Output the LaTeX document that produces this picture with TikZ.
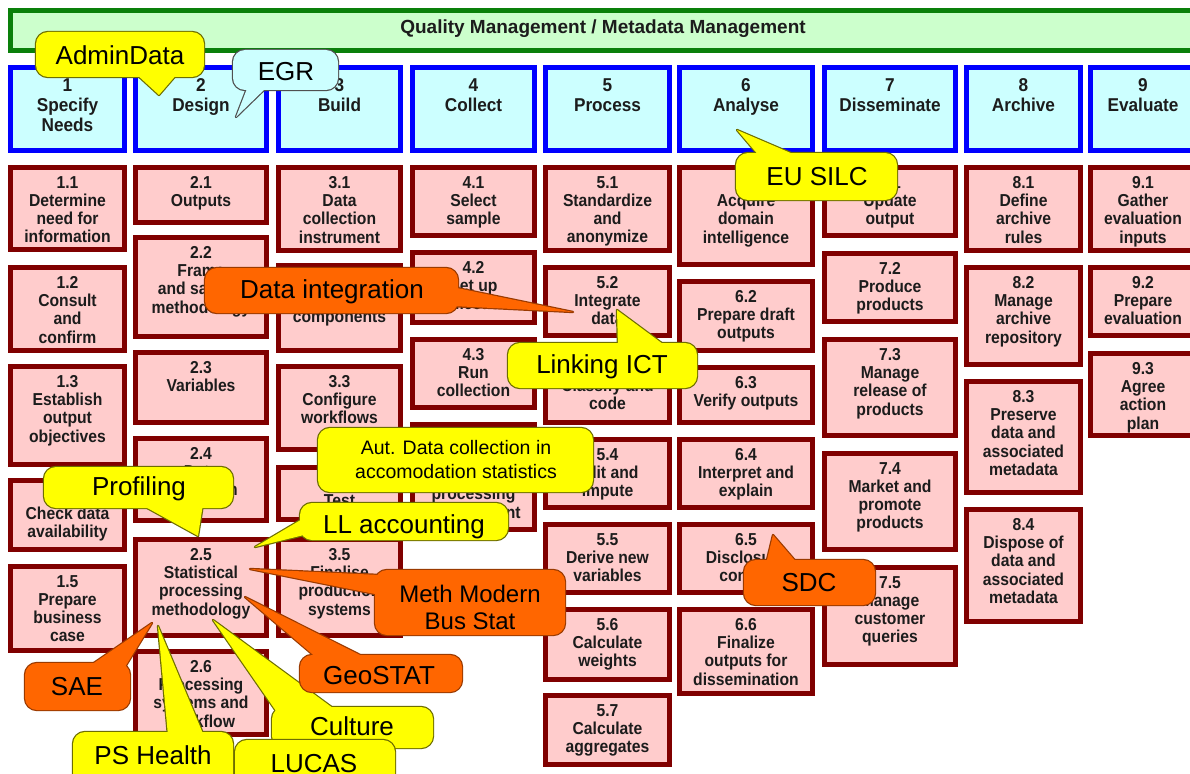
\documentclass[tikz,border=0pt]{standalone}
\usepackage{fontspec}
\setmainfont{Liberation Sans}
\usetikzlibrary{calc}

\definecolor{qmline}{HTML}{0A800A}
\definecolor{qmfill}{HTML}{CCFFCC}
\definecolor{phaseline}{HTML}{0000FF}
\definecolor{phasefill}{HTML}{CCFFFF}
\definecolor{subline}{HTML}{800000}
\definecolor{subfill}{HTML}{FFCCCC}
\definecolor{boxtext}{HTML}{1C1C1C}
\definecolor{yelfill}{HTML}{FFFF00}
\definecolor{yelline}{HTML}{6E6E00}
\definecolor{orgfill}{HTML}{FF6600}
\definecolor{orgline}{HTML}{9A3A00}
\definecolor{cyafill}{HTML}{CCFFFF}
\definecolor{cyaline}{HTML}{505050}

\tikzset{
  gsbframe/.style={rectangle, line width=5pt, inner sep=0pt, outer sep=0pt},
  phasebox/.style={gsbframe, draw=phaseline, fill=phasefill},
  stepbox/.style={gsbframe, draw=subline, fill=subfill},
  phasebox text/.style={anchor=north, yshift=-11pt, yscale=1.08, inner sep=0pt, align=center,
    text=boxtext, font=\bfseries\fontsize{17.2}{18.5}\selectfont},
  stepbox text/.style={anchor=north, yshift=-8.5pt, yscale=1.1, inner sep=0pt, align=center,
    text=boxtext, font=\bfseries\fontsize{15.7}{16.6}\selectfont},
  yel edge/.style={draw=yelline, line width=2.4pt, line join=round},
  yel fill/.style={fill=yelfill},
  yel label/.style={inner sep=0pt, align=center, text=black, font=\fontsize{26}{29}\selectfont},
  org edge/.style={draw=orgline, line width=2.4pt, line join=round},
  org fill/.style={fill=orgfill},
  org label/.style={inner sep=0pt, align=center, text=black, font=\fontsize{26}{29}\selectfont},
  cya edge/.style={draw=cyaline, line width=2.4pt, line join=round},
  cya fill/.style={fill=cyafill},
  cya label/.style={inner sep=0pt, align=center, text=black, font=\fontsize{26}{29}\selectfont},
}

% framed box with its text hung from the top edge
% #1 style, #2 name, #3 x1, #4 y1, #5 x2, #6 y2 (outer edges), #7 text
\newcommand\gbox[7]{%
  \node[#1, minimum width={#5-#3-5}, minimum height={#6-#4-5}, anchor=north west]
    (#2) at ({#3+2.5},{#4+2.5}) {};
  \node[#1 text] (#2t) at (#2.north) {#7};}

% rounded speech bubble with a wedge pointer
% #1 colour set, #2 name, #3/#4 corners, #5 wedge base A, #6 tip, #7 wedge base B,
% #8 text position (and options), #9 text
\newcommand\callout[9]{%
  \path[#1 edge] #5 -- #6 -- #7 -- cycle;
  \path[#1 edge, rounded corners=12pt] #3 rectangle #4;
  \path[#1 fill] #5 -- #6 -- #7 -- cycle;
  \path[#1 fill, rounded corners=12pt] #3 rectangle #4;
  \node[#1 label] (#2) at #8 {#9};}

% rounded bubble without a pointer
\newcommand\bubble[6]{%
  \path[#1 edge, rounded corners=12pt] #3 rectangle #4;
  \path[#1 fill, rounded corners=12pt] #3 rectangle #4;
  \node[#1 label] (#2) at #5 {#6};}

\begin{document}
\begin{tikzpicture}[x=1pt, y=-1pt]
\useasboundingbox (0,0) rectangle (1190,773);
\clip (0,0) rectangle (1190,773);
\fill[white] (0,0) rectangle (1190,773);

% quality / metadata management band
\node[gsbframe, draw=qmline, fill=qmfill, minimum width=1185, minimum height=40,
  anchor=north west] (qmbar) at (10.5,10.5) {};
\node[inner sep=0pt, text=boxtext, font=\bfseries\fontsize{19}{22}\selectfont]
  (qmtitle) at ([yshift=1.5pt]qmbar.center) {Quality Management / Metadata Management};

% phases
\gbox{phasebox}{p1}{8}{65}{127}{153}{1\\Specify\\Needs}
\gbox{phasebox}{p2}{133}{65}{269}{153}{2\\Design}
\gbox{phasebox}{p3}{276}{65}{403}{153}{3\\Build}
\gbox{phasebox}{p4}{410}{65}{537}{153}{4\\Collect}
\gbox{phasebox}{p5}{543}{65}{672}{153}{5\\Process}
\gbox{phasebox}{p6}{677}{65}{815}{153}{6\\Analyse}
\gbox{phasebox}{p7}{822}{65}{958}{153}{7\\Disseminate}
\gbox{phasebox}{p8}{964}{65}{1083}{153}{8\\Archive}
\gbox{phasebox}{p9}{1088}{65}{1198}{153}{9\\Evaluate}

% sub-processes, phase 1
\gbox{stepbox}{s11}{8}{165}{127}{252}{1.1\\Determine\\need for\\information}
\gbox{stepbox}{s12}{8}{265}{127}{353}{1.2\\Consult\\and\\confirm}
\gbox{stepbox}{s13}{8}{364}{127}{467}{1.3\\Establish\\output\\objectives}
\gbox{stepbox}{s14}{8}{478}{127}{552}{1.4\\Check data\\availability}
\gbox{stepbox}{s15}{8}{564}{127}{653}{1.5\\Prepare\\business\\case}
% phase 2
\gbox{stepbox}{s21}{133}{165}{269}{225}{2.1\\Outputs}
\gbox{stepbox}{s22}{133}{235}{269}{339}{2.2\\Frame\\and sample\\methodology}
\gbox{stepbox}{s23}{133}{350}{269}{425}{2.3\\Variables}
\gbox{stepbox}{s24}{133}{436}{269}{523}{2.4\\Data\\collection}
\gbox{stepbox}{s25}{133}{537}{269}{638}{2.5\\Statistical\\processing\\methodology}
\gbox{stepbox}{s26}{133}{649}{269}{737}{2.6\\Processing\\systems and\\workflow}
% phase 3
\gbox{stepbox}{s31}{276}{165}{403}{253}{3.1\\Data\\collection\\instrument}
\gbox{stepbox}{s32}{276}{263}{403}{353}{3.2\\Process\\components}
\gbox{stepbox}{s33}{276}{364}{403}{452}{3.3\\Configure\\workflows}
\gbox{stepbox}{s34}{276}{465}{403}{522}{3.4\\Test}
\gbox{stepbox}{s35}{276}{537}{403}{638}{3.5\\Finalise\\production\\systems}
% phase 4
\gbox{stepbox}{s41}{410}{165}{537}{238}{4.1\\Select\\sample}
\gbox{stepbox}{s42}{410}{250}{537}{325}{4.2\\Set up\\collection}
\gbox{stepbox}{s43}{410}{337}{537}{410}{4.3\\Run\\collection}
\gbox{stepbox}{s44}{410}{422}{537}{532}{4.4\\Load data\\into\\processing\\environment}
% phase 5
\gbox{stepbox}{s51}{543}{165}{672}{253}{5.1\\Standardize\\and\\anonymize}
\gbox{stepbox}{s52}{543}{265}{672}{338}{5.2\\Integrate\\data}
\gbox{stepbox}{s53}{543}{350}{672}{425}{5.3\\Classify and\\code}
\gbox{stepbox}{s54}{543}{437}{672}{510}{5.4\\Edit and\\impute}
\gbox{stepbox}{s55}{543}{522}{672}{595}{5.5\\Derive new\\variables}
\gbox{stepbox}{s56}{543}{607}{672}{682}{5.6\\Calculate\\weights}
\gbox{stepbox}{s57}{543}{693}{672}{767}{5.7\\Calculate\\aggregates}
% phase 6
\gbox{stepbox}{s61}{677}{165}{815}{267}{6.1\\Acquire\\domain\\intelligence}
\gbox{stepbox}{s62}{677}{279}{815}{353}{6.2\\Prepare draft\\outputs}
\gbox{stepbox}{s63}{677}{365}{815}{425}{6.3\\Verify outputs}
\gbox{stepbox}{s64}{677}{437}{815}{510}{6.4\\Interpret and\\explain}
\gbox{stepbox}{s65}{677}{522}{815}{595}{6.5\\Disclosure\\control}
\gbox{stepbox}{s66}{677}{607}{815}{696}{6.6\\Finalize\\outputs for\\dissemination}
% phase 7
\gbox{stepbox}{s71}{822}{165}{958}{238}{7.1\\Update\\output}
\gbox{stepbox}{s72}{822}{251}{958}{324}{7.2\\Produce\\products}
\gbox{stepbox}{s73}{822}{337}{958}{438}{7.3\\Manage\\release of\\products}
\gbox{stepbox}{s74}{822}{451}{958}{552}{7.4\\Market and\\promote\\products}
\gbox{stepbox}{s75}{822}{565}{958}{667}{7.5\\Manage\\customer\\queries}
% phase 8
\gbox{stepbox}{s81}{964}{165}{1083}{253}{8.1\\Define\\archive\\rules}
\gbox{stepbox}{s82}{964}{265}{1083}{367}{8.2\\Manage\\archive\\repository}
\gbox{stepbox}{s83}{964}{379}{1083}{495}{8.3\\Preserve\\data and\\associated\\metadata}
\gbox{stepbox}{s84}{964}{507}{1083}{624}{8.4\\Dispose of\\data and\\associated\\metadata}
% phase 9
\gbox{stepbox}{s91}{1088}{165}{1198}{253}{9.1\\Gather\\evaluation\\inputs}
\gbox{stepbox}{s92}{1088}{265}{1198}{338}{9.2\\Prepare\\evaluation}
\gbox{stepbox}{s93}{1088}{351}{1198}{438}{9.3\\Agree\\action\\plan}

% project call-outs
\callout{yel}{admindata}{(36,32)}{(204,77)}{(135,73)}{(159,95)}{(178,73)}{(120,55)}{AdminData}
\callout{cya}{egr}{(233,50)}{(338,90)}{(248,86)}{(236,117)}{(268,86)}{(286,72)}{EGR}
\callout{yel}{eusilc}{(736,153)}{(897,200)}{(760,157)}{(737,130)}{(800,157)}{(817,177)}{EU SILC}
\callout{org}{dataint}{(205,268)}{(458,313)}{(452,287)}{(573,312)}{(452,306)}{(332,292)}{Data integration}
\callout{yel}{linkict}{(508,343)}{(697,388)}{(618,347)}{(617,310)}{(667,347)}{(602,367)}{Linking ICT}
\bubble{yel}{autdata}{(318,428)}{(593,492)}{(456,460) [font=\fontsize{19.5}{24}\selectfont]}{Aut. Data collection in\\accomodation statistics}
\callout{yel}{profiling}{(44,467)}{(233,508)}{(140,504)}{(198,536)}{(203,504)}{(139,489)}{Profiling}
\callout{yel}{llacc}{(300,503)}{(508,540)}{(304,518)}{(255,547)}{(304,535)}{(404,527)}{LL accounting}
\callout{org}{methmod}{(375,570)}{(565,635)}{(380,575)}{(250,569)}{(380,595)}{(470,607) [font=\fontsize{24}{27}\selectfont]}{Meth Modern\\Bus Stat}
\callout{org}{sae}{(25,663)}{(130,710)}{(88,667)}{(152,623)}{(125,667)}{(77,687)}{SAE}
\callout{yel}{pshealth}{(73,732)}{(233,790)}{(168,736)}{(158,626)}{(204,736)}{(153,755)}{PS Health}
\callout{yel}{culture}{(272,707)}{(433,748)}{(276,711)}{(213,620)}{(337,711)}{(352,726)}{Culture}
\callout{org}{geostat}{(300,655)}{(462,692)}{(318,659)}{(245,597)}{(368,659)}{(379,676)}{GeoSTAT}
\bubble{yel}{lucas}{(235,740)}{(395,800)}{(314,764)}{LUCAS}
\callout{org}{sdc}{(744,560)}{(875,605)}{(766,564)}{(773,535)}{(798,564)}{(809,583)}{SDC}
\end{tikzpicture}
\end{document}
